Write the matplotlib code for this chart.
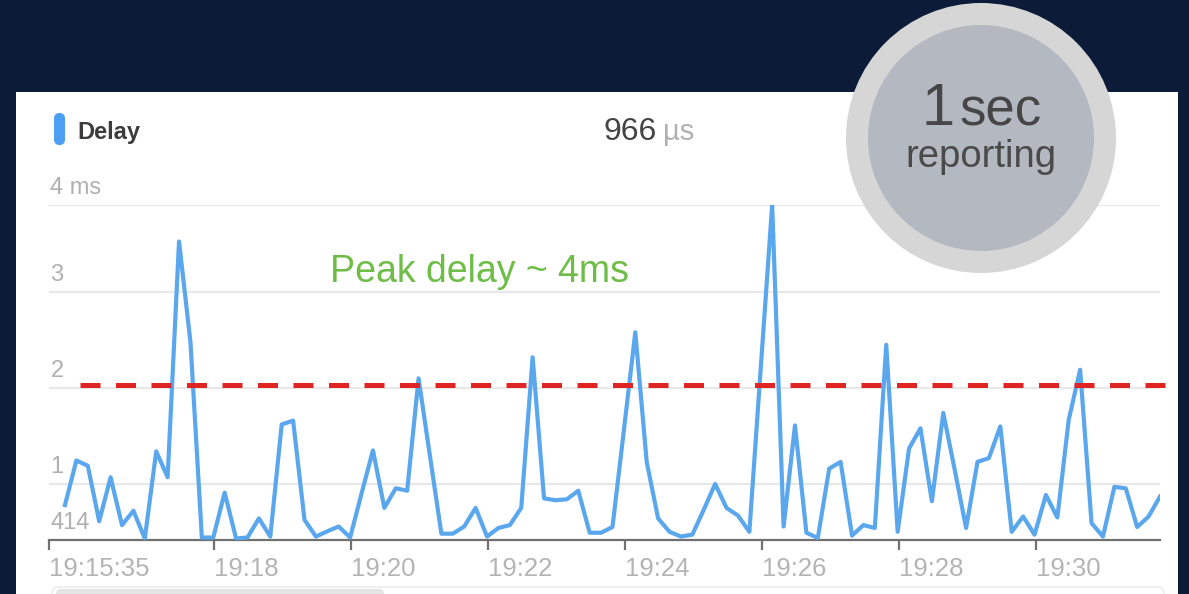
import numpy as np
import matplotlib
matplotlib.use("Agg")
import matplotlib.pyplot as plt
from matplotlib.patches import Rectangle, Circle, FancyBboxPatch
import matplotlib.transforms as mtransforms

plt.rcParams['font.family'] = ['Liberation Sans', 'DejaVu Sans']

# ---------------- data ----------------
series_name = "Delay"
current_value = "966"
current_unit = "µs"
first_sample = "19:15:49"
sample_interval_s = 10
delay_ms = [
    0.78, 1.245, 1.19, 0.61, 1.07, 0.57, 0.72, 0.43, 1.34, 1.07,
    3.58, 2.48, 0.44, 0.44, 0.91, 0.43, 0.44, 0.64, 0.45, 1.62,
    1.66, 0.625, 0.45, 0.505, 0.555, 0.44, 0.90, 1.35, 0.75, 0.955,
    0.93, 2.10, 1.29, 0.48, 0.48, 0.555, 0.75, 0.45, 0.54, 0.57,
    0.75, 2.32, 0.85, 0.83, 0.84, 0.93, 0.49, 0.49, 0.55, 1.56,
    2.58, 1.23, 0.64, 0.50, 0.45, 0.47, 0.73, 1.00, 0.75, 0.67,
    0.50, 2.21, 4.00, 0.555, 1.61, 0.49, 0.435, 1.16, 1.23, 0.46,
    0.57, 0.54, 2.45, 0.50, 1.37, 1.58, 0.82, 1.74, 1.15, 0.54,
    1.23, 1.27, 1.60, 0.50, 0.66, 0.47, 0.885, 0.65, 1.67, 2.19,
    0.59, 0.45, 0.97, 0.955, 0.55, 0.66, 0.87,
]
x_start_label = "19:15:35"
x_tick_labels = ["19:15:35", "19:18", "19:20", "19:22", "19:24", "19:26", "19:28", "19:30"]
y_ticks = [0.414, 1, 2, 3, 4]
y_tick_labels = ["414", "1", "2", "3", "4 ms"]
threshold_ms = 2.03
annotation = "Peak delay ~ 4ms"
badge_big = "1"
badge_unit = "sec"
badge_sub = "reporting"

# screen spacing of the chart's (slightly uneven) y gridlines, px from baseline
y_knot_px = [0, 56, 152, 248, 335]


def to_seconds(label):
    parts = [int(p) for p in label.split(":")]
    while len(parts) < 3:
        parts.append(0)
    return parts[0] * 3600 + parts[1] * 60 + parts[2]


t0 = to_seconds(first_sample)
times = np.array([t0 + i * sample_interval_s for i in range(len(delay_ms))])
tick_pos = [to_seconds(l) for l in x_tick_labels]

kv = np.array(y_ticks, float)
kp = np.array(y_knot_px, float)


def fwd(v):
    v = np.asarray(v, float)
    out = np.interp(v, kv, kp)
    lo = v < kv[0]
    hi = v > kv[-1]
    out = np.where(lo, kp[0] + (v - kv[0]) * (kp[1] - kp[0]) / (kv[1] - kv[0]), out)
    out = np.where(hi, kp[-1] + (v - kv[-1]) * (kp[-1] - kp[-2]) / (kv[-1] - kv[-2]), out)
    return out


def inv(p):
    p = np.asarray(p, float)
    out = np.interp(p, kp, kv)
    lo = p < kp[0]
    hi = p > kp[-1]
    out = np.where(lo, kv[0] + (p - kp[0]) * (kv[1] - kv[0]) / (kp[1] - kp[0]), out)
    out = np.where(hi, kv[-1] + (p - kp[-1]) * (kv[-1] - kv[-2]) / (kp[-1] - kp[-2]), out)
    return out


# ---------------- figure ----------------
W, H = 1189, 594
fig = plt.figure(figsize=(W / 100, H / 100), dpi=100)
fig.patch.set_facecolor('#0b1b38')

# white card
fig.add_artist(Rectangle((16 / W, 0), (1178 - 16) / W, (H - 92) / H,
                         transform=fig.transFigure, facecolor='white',
                         edgecolor='none', zorder=-5))

ax_left, ax_right, ax_top, ax_bot = 49, 1160, 205, 540
ax = fig.add_axes([ax_left / W, (H - ax_bot) / H, (ax_right - ax_left) / W,
                   (ax_bot - ax_top) / H])
ax.set_facecolor('none')
ax.set_yscale('function', functions=(fwd, inv))
ax.set_ylim(y_ticks[0], y_ticks[-1])
ax.set_xlim(to_seconds(x_start_label), times[-1])

for s in ['top', 'right', 'left']:
    ax.spines[s].set_visible(False)
ax.spines['bottom'].set_color('#707070')
ax.spines['bottom'].set_linewidth(1.6)

for yv in y_ticks[1:]:
    ax.axhline(yv, color='#e8e8e8', lw=1.6, zorder=1)

ax.set_yticks([])
ax.set_xticks(tick_pos)
ax.set_xticklabels(x_tick_labels, ha='left')
ax.tick_params(axis='x', length=7, width=1.6, color='#707070',
               labelcolor='#b4b4b4', labelsize=18.5, pad=5.5)

off = mtransforms.offset_copy(ax.get_yaxis_transform(), fig=fig, x=1, y=8, units='points')
for yv, lab in zip(y_ticks, y_tick_labels):
    ax.text(0, yv, lab, transform=off, ha='left', va='baseline',
            fontsize=17, color='#b0b0b0', zorder=2)

ax.plot(times, delay_ms, color='#5aa7ee', lw=3.0, zorder=4)

ax.axhline(threshold_ms, xmin=(80 - ax_left) / (ax_right - ax_left),
           xmax=(1178 - ax_left) / (ax_right - ax_left),
           color='#e02424', lw=3.6, ls=(0, (4.0, 3.1)), clip_on=False, zorder=5)

# ---------------- overlay (header texts, badge, scrollbar) ----------------
ov = fig.add_axes([0, 0, 1, 1], zorder=10)
ov.set_xlim(0, W)
ov.set_ylim(H, 0)
ov.axis('off')
ov.patch.set_alpha(0)

# range-selector strip at the bottom of the card
ov.add_patch(FancyBboxPatch((52, 587), 1112, 14,
                            boxstyle='round,pad=0,rounding_size=6',
                            facecolor='none', edgecolor='#ececec', lw=1.2))
ov.add_patch(FancyBboxPatch((56, 589), 328, 12,
                            boxstyle='round,pad=0,rounding_size=5',
                            facecolor='#e4e4e4', edgecolor='none'))

ov.add_patch(FancyBboxPatch((54, 113), 11, 32,
                            boxstyle='round,pad=0,rounding_size=5.5',
                            facecolor='#4c9ff3', edgecolor='none'))
ov.text(77, 138.5, series_name, fontsize=17, color='#3c3c3c', va='baseline',
        ha='left', fontweight='bold')
ov.text(657, 140, current_value, fontsize=23, color='#444444', va='baseline', ha='right')
ov.text(663, 140, current_unit, fontsize=21, color='#b0b0b0', va='baseline', ha='left')

ov.text(330, 281.5, annotation, fontsize=27, color='#6dbd47', va='baseline', ha='left')

ov.add_patch(Circle((981, 138), 135, facecolor='#d6d6d6', edgecolor='none'))
ov.add_patch(Circle((981, 138), 113, facecolor='#b4b9c1', edgecolor='none'))
ov.text(955, 125, badge_big, fontsize=43, color='#464646', va='baseline', ha='right')
ov.text(959, 125, badge_unit, fontsize=38, color='#464646', va='baseline', ha='left')
ov.text(981, 167, badge_sub, fontsize=27.5, color='#4a4a4a', va='baseline', ha='center')

fig.savefig('out.png', dpi=100, facecolor=fig.get_facecolor())
